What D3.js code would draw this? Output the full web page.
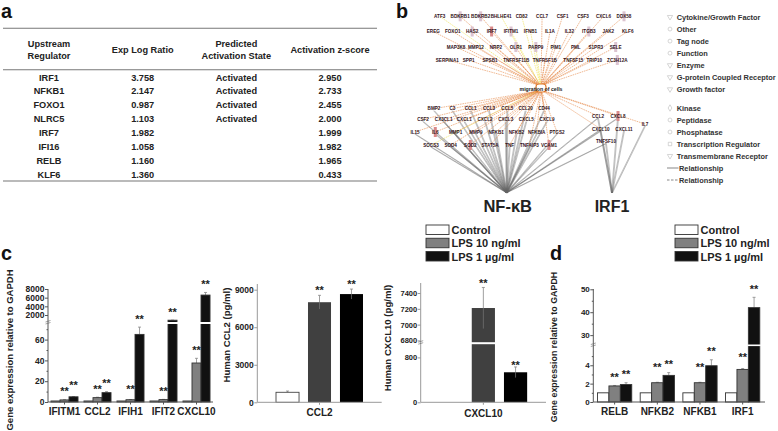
<!DOCTYPE html>
<html>
<head>
<meta charset="utf-8">
<script src="https://cdn.jsdelivr.net/npm/d3@7/dist/d3.min.js"></script>
<style>
html, body { margin: 0; padding: 0; background: #fff; }
svg { display: block; font-family: "Liberation Sans", Arial, sans-serif; }
text { font-weight: bold; fill: #222; }
</style>
</head>
<body>
<div id="chart"></div>
<script>
// panel a - table columns
var tableHeaders = [["Upstream", "Regulator"], ["Exp Log Ratio"], ["Predicted", "Activation State"], ["Activation z-score"]];
var regulators = ["IRF1", "NFKB1", "FOXO1", "NLRC5", "IRF7", "IFI16", "RELB", "KLF6"];
var expLogRatios = ["3.758", "2.147", "0.987", "1.103", "1.982", "1.058", "1.160", "1.360"];
var activationStates = ["Activated", "Activated", "Activated", "Activated", "", "", "", ""];
var zScores = ["2.950", "2.733", "2.455", "2.000", "1.999", "1.982", "1.965", "0.433"];

// panel b - network nodes, row by row
var upperRows = [
    ["ATF3", "BDKRB1", "BDKRB2", "BHLHE41", "CD82", "CCL7", "CSF1", "CSF3", "CXCL6", "DDX58"],
    ["EREG", "FOXO1", "HAS2", "IRF7", "IFITM1", "IFNB1", "IL1A", "IL32", "ITGB3", "JAK2", "KLF6"],
    ["MAP3K8", "MMP12", "NRP2", "OLR1", "PARP9", "PIM1", "PML", "S1PR3", "SELE"],
    ["SERPINA1", "SPP1", "SPSB1"],
    ["TNFRSF11B", "TNFRSF1B", "TNFSF15"],
    ["TRIP10", "ZC3H12A"]
];
var lowerRows = [
    ["BMP2", "C3", "CCL1", "CCL3", "CCL5", "CCL20", "CD44"],
    ["CSF2", "CX3CL1", "CXCL1", "CXCL2", "CXCL3", "CXCL5", "CXCL9"],
    ["IL15", "IL6", "MMP1", "MMP9", "NFKB1", "NFKB2", "NFKBIA", "PTGS2"],
    ["SOCS3", "SOD4", "SOD2", "STAT5A", "TNF", "TNFAIP3", "VCAM1"]
];
var sideRows = [["CCL2", "CXCL8"], ["CXCL10", "CXCL11"], ["TNFSF10"], ["IL7"]];
var irf1Targets = ["CCL2", "CXCL8", "CXCL10", "CXCL11", "TNFSF10", "IL7"];
var nfkbExtraTargets = ["CCL2", "CXCL8", "CXCL10", "TNFSF10"];
var yellowEdges = ["ATF3", "BHLHE41", "CD82", "IFITM1", "IFNB1", "PARP9", "SOCS3"];
var markedNodes = ["BDKRB1", "BDKRB2", "IRF7", "DDX58", "ITGB3", "SELE", "ZC3H12A", "IFITM1", "HAS2", "OLR1", "PARP9", "IL6", "SOD2", "VCAM1", "CXCL8"];
var darkMarkedNodes = ["IRF7", "IL6", "SOD2", "VCAM1", "CXCL8"];
var networkLegendTop = ["Cytokine/Growth Factor", "Other", "Tag node", "Function", "Enzyme", "G-protein Coupled Receptor", "Growth factor"];
var networkLegendBottom = ["Kinase", "Peptidase", "Phosphatase", "Transcription Regulator", "Transmembrane Receptor"];

// treatment groups
var treatments = ["Control", "LPS 10 ng/ml", "LPS 1 \u00b5g/ml"];

// panel c - gene expression
var genesC = ["IFITM1", "CCL2", "IFIH1", "IFIT2", "CXCL10"];
var controlC = [1, 1, 1, 1, 1];
var lps10C = [2, 4.2, 2.2, 2.3, 37.5];
var lps1C = [5, 9, 65, 800, 6600];
var errorTop10C = [2.2, 4.6, 2.4, 2.5, 42];
var errorTop1C = [5.2, 10, 72, 820, 7200];
var ticksC = [0, 20, 40, 60, 2000, 4000, 6000, 8000];
var minorTicksC = [10, 30, 50, 70];

// human CCL2 protein
var genesCcl2 = ["CCL2"];
var valuesCcl2 = [800, 8000, 8650];
var errorTopCcl2 = [900, 8550, 9050];
var ticksCcl2 = [0, 3000, 6000, 9000];

// human CXCL10 protein
var genesCxcl10 = ["CXCL10"];
var valuesCxcl10 = [0, 7210, 535];
var errorTopCxcl10 = [0, 7470, 630];
var ticksCxcl10 = [0, 800, 6800, 7000, 7200, 7400];

// panel d - gene expression
var genesD = ["RELB", "NFKB2", "NFKB1", "IRF1"];
var controlD = [1, 1, 1, 1];
var lps10D = [1.75, 2.1, 2.1, 3.55];
var lps1D = [1.9, 2.9, 3.95, 42];
var errorTop10D = [1.8, 2.15, 2.15, 3.65];
var errorTop1D = [2.1, 3.2, 4.6, 46.5];
var ticksD = [0, 2, 4, 30, 40, 50];
var minorTicksD = [1, 3, 5, 35, 45];

var svg = d3.select("#chart").append("svg")
    .attr("width", 778)
    .attr("height", 431);

// panel letters
[["a", 1, 18], ["b", 396, 18], ["c", 1, 260], ["d", 550, 260]].forEach(function(p) {
    svg.append("text").attr("x", p[1]).attr("y", p[2])
        .attr("font-size", 19.8).style("fill", "#111").text(p[0]);
});

drawTable();
drawNetwork();
drawNetworkLegend();

// Bar panels. Broken axes are just a piecewise scale with two close stops.
drawBars({
    x0: [48, 213], domain: [0, 75, 385, 8000], range: [402, 324, 322, 289],
    top: 289, axisEnd: 213, groups: genesC, sets: [controlC, lps10C, lps1C],
    errors: [controlC, errorTop10C, errorTop1C], ticks: ticksC, minor: minorTicksC,
    innerPad: 0, outerPad: 0.33, fills: ["#fff", "#808080", "#111"], strokes: "#333",
    axisColor: "#555", tickFont: 8.5, labelFont: 10, labelY: 415, starGap: 10,
    gapAt: [322, 2], starFrom: 1, nudges: {"IFITM1|2": 3, "IFIH1|1": 2},
    title: "Gene expression relative to GAPDH", titleX: 12.5, titleY: 350, titleFont: 9.5
});
drawBars({
    x0: [257.3, 381.7], domain: [0, 9000], range: [402.3, 289.7],
    top: 284, axisEnd: 381.7, groups: genesCcl2, sets: [[valuesCcl2[0]], [valuesCcl2[1]], [valuesCcl2[2]]],
    errors: [[errorTopCcl2[0]], [errorTopCcl2[1]], [errorTopCcl2[2]]], ticks: ticksCcl2, minor: [],
    innerPad: 0.28, outerPad: 0.585, fills: ["#fff", "#404040", "#000"], strokes: null,
    axisColor: "#999", tickFont: 8.5, labelFont: 10, labelY: 416, starGap: 7,
    starFrom: 1, nudges: {}, errorDown: true,
    title: "Human CCL2 (pg/ml)", titleX: 230, titleY: 335, titleFont: 9.6
});
drawBars({
    x0: [420.7, 546], domain: [0, 1030, 6780, 7400], range: [402.3, 344.5, 342, 293],
    top: 283, axisEnd: 546, groups: genesCxcl10, sets: [[valuesCxcl10[0]], [valuesCxcl10[1]], [valuesCxcl10[2]]],
    errors: [[errorTopCxcl10[0]], [errorTopCxcl10[1]], [errorTopCxcl10[2]]], ticks: ticksCxcl10, minor: [],
    innerPad: 0.28, outerPad: 0.585, fills: ["#fff", "#404040", "#000"], strokes: null,
    axisColor: "#999", tickFont: 7.5, labelFont: 10, labelY: 417, starGap: 6,
    gapAt: [342.2, 2], starFrom: 1, nudges: {"CXCL10|2": -3}, errorDown: true,
    title: "Human CXCL10 (pg/ml)", titleX: 391, titleY: 338, titleFont: 9.6
});
drawBars({
    x0: [593.3, 764], domain: [0, 6.1, 26, 50], range: [402, 346, 344.3, 289.3],
    top: 289, axisEnd: 765, groups: genesD, sets: [controlD, lps10D, lps1D],
    errors: [controlD, errorTop10D, errorTop1D], ticks: ticksD, minor: minorTicksD,
    innerPad: 0, outerPad: 0.37, fills: ["#fff", "#808080", "#111"], strokes: "#333",
    axisColor: "#555", tickFont: 8, labelFont: 10, labelY: 415, starGap: 10,
    gapAt: [344.5, 1.6], starFrom: 1, nudges: {"NFKB2|1": 7, "NFKB1|1": 7, "IRF1|1": 3},
    title: "Gene expression relative to GAPDH", titleX: 557, titleY: 347, titleFont: 8.9
});

drawLegend(426, 225);
drawLegend(675, 225);


function drawTable() {
    var g = svg.append("g");
    var columnX = d3.scalePoint().domain(d3.range(4)).range([49, 330]);
    var rowY = d3.scalePoint().domain(regulators).range([77.3, 174.4]);
    var columns = [regulators, expLogRatios, activationStates, zScores];

    // three horizontal rules
    g.selectAll("line").data([28.3, 69.7, 181]).enter().append("line")
        .attr("x1", 3).attr("x2", 377)
        .attr("y1", function(d) { return d; }).attr("y2", function(d) { return d; })
        .attr("stroke", "#777").attr("stroke-width", 1.1);

    tableHeaders.forEach(function(lines, i) {
        lines.forEach(function(line, j) {
            g.append("text")
                .attr("x", columnX(i))
                .attr("y", 52.9 + (j - (lines.length - 1) / 2) * 12)
                .attr("text-anchor", "middle").attr("font-size", 9.2)
                .text(line);
        });
    });

    columns.forEach(function(col, i) {
        g.selectAll(null).data(col).enter().append("text")
            .attr("x", columnX(i))
            .attr("y", function(d, r) { return rowY(regulators[r]) + 3.2; })
            .attr("text-anchor", "middle").attr("font-size", 9.2)
            .text(function(d) { return d; });
    });
}


function drawNetwork() {
    var g = svg.append("g");
    var hub = [541, 88];
    var nfkb = [506.7, 192.7];
    var irf1 = [612, 193];
    var pos = {};

    // layout rows are [y, left, right]
    function place(rows, layout) {
        rows.forEach(function(row, i) {
            var sx = d3.scalePoint().domain(row).range([layout[i][1], layout[i][2]]);
            row.forEach(function(n) { pos[n] = [sx(n), layout[i][0]]; });
        });
    }
    place(upperRows, [[16.3, 439.7, 624], [31.5, 433.3, 627.7], [47, 456, 615.7], [60, 447.3, 490], [60, 516.3, 573.3], [60, 594.3, 617.3]]);
    place(lowerRows, [[108.7, 434, 544], [119.5, 423, 547], [132, 415, 557], [145, 431, 549]]);
    place(sideRows, [[116, 598, 618], [129, 600.7, 624], [141.5, 606, 606], [124, 645, 645]]);

    var allNames = d3.merge([d3.merge(upperRows), d3.merge(lowerRows), d3.merge(sideRows)]);

    // gray regulator edges, drawn twice to look like the doubled lines
    var nfkbTargets = d3.merge(lowerRows).concat(nfkbExtraTargets);
    function grayEdge(name, end) {
        [-0.45, 0.45].forEach(function(off) {
            g.append("line")
                .attr("x1", pos[name][0] + off).attr("y1", pos[name][1] + 2)
                .attr("x2", end[0] + off).attr("y2", end[1])
                .attr("stroke", "#666").attr("stroke-width", 0.4);
        });
    }
    nfkbTargets.forEach(function(n) { grayEdge(n, nfkb); });
    irf1Targets.forEach(function(n) { grayEdge(n, irf1); });

    // dashed edges to the function node
    allNames.filter(function(n) { return n !== "TNFSF10" && n !== "CXCL11"; }).forEach(function(n) {
        var isYellow = yellowEdges.indexOf(n) >= 0;
        g.append("line")
            .attr("x1", pos[n][0]).attr("y1", pos[n][1])
            .attr("x2", hub[0] + (pos[n][0] - hub[0]) * 0.03)
            .attr("y2", hub[1] + (pos[n][1] < hub[1] ? -3 : 3))
            .attr("stroke", isYellow ? "#efe04e" : "#e58a4a")
            .attr("stroke-width", 0.6)
            .attr("stroke-dasharray", "1.6,0.8");
    });

    // function node
    g.append("rect")
        .attr("x", hub[0] - 5).attr("y", hub[1] - 4).attr("width", 10).attr("height", 8)
        .attr("rx", 3).attr("fill", "#fff").attr("stroke", "#e07b2c").attr("stroke-width", 1.2);

    // marks behind the node labels
    g.selectAll("rect.mark").data(markedNodes).enter().append("rect")
        .attr("class", "mark")
        .attr("x", function(d) { return pos[d][0] - 1.5; })
        .attr("y", function(d) { return pos[d][1] - 5; })
        .attr("width", 3).attr("height", 10)
        .attr("fill", function(d) { return darkMarkedNodes.indexOf(d) >= 0 ? "#d98a8a" : "#dcc4d0"; });

    g.selectAll("text.node").data(allNames).enter().append("text")
        .attr("class", "node")
        .attr("x", function(d) { return pos[d][0]; })
        .attr("y", function(d) { return pos[d][1] + 1.6; })
        .attr("text-anchor", "middle").attr("font-size", 4.6)
        .style("fill", "#301018")
        .text(function(d) { return d; });

    g.append("text").attr("x", hub[0]).attr("y", hub[1] + 2.5)
        .attr("text-anchor", "middle").attr("font-size", 5.2).style("fill", "#222")
        .text("migration of cells");

    g.append("text").attr("x", nfkb[0] + 1).attr("y", 212)
        .attr("text-anchor", "middle").attr("font-size", 16.5).style("fill", "#222").text("NF-\u03baB");
    g.append("text").attr("x", irf1[0]).attr("y", 212)
        .attr("text-anchor", "middle").attr("font-size", 16).style("fill", "#222").text("IRF1");
}


function drawNetworkLegend() {
    var g = svg.append("g");
    var textX = 676.7;
    var iconX = 670;
    var symbols = [d3.symbolTriangle, d3.symbolCircle, d3.symbolCircle, d3.symbolCircle, d3.symbolTriangle, d3.symbolTriangle, d3.symbolTriangle,
                   d3.symbolDiamond, d3.symbolCircle, d3.symbolCircle, d3.symbolSquare, d3.symbolTriangle];
    var topY = d3.scalePoint().domain(networkLegendTop).range([17, 89.3]);
    var bottomY = d3.scalePoint().domain(networkLegendBottom).range([108, 156]);
    var rows = networkLegendTop.map(function(d) { return [d, topY(d)]; })
        .concat(networkLegendBottom.map(function(d) { return [d, bottomY(d)]; }));

    rows.forEach(function(r, i) {
        g.append("path")
            .attr("d", d3.symbol().type(symbols[i]).size(12)())
            .attr("transform", "translate(" + iconX + "," + r[1] + ")" + (symbols[i] === d3.symbolTriangle ? " rotate(180)" : ""))
            .attr("fill", "#fff").attr("stroke", "#c4c4c4").attr("stroke-width", 0.7);
        g.append("text").attr("x", textX).attr("y", r[1] + 2.7)
            .attr("font-size", 7.4).style("fill", "#333").text(r[0]);
    });

    // the two line styles
    [[168, null], [180, "2.5,1.5"]].forEach(function(r) {
        g.append("line").attr("x1", 667).attr("x2", 678.5)
            .attr("y1", r[0]).attr("y2", r[0])
            .attr("stroke", "#555").attr("stroke-width", 0.7)
            .attr("stroke-dasharray", r[1]);
        g.append("text").attr("x", 679).attr("y", r[0] + 2.7)
            .attr("font-size", 7.4).style("fill", "#333").text("Relationship");
    });
}


function drawLegend(left, top) {
    var g = svg.append("g");
    var fills = ["#fff", "#808080", "#111"];
    var ly = d3.scalePoint().domain(treatments).range([top, top + 26.5]);
    g.selectAll("rect").data(treatments).enter().append("rect")
        .attr("x", left).attr("y", function(d) { return ly(d); })
        .attr("width", 23).attr("height", 9.5)
        .attr("fill", function(d, i) { return fills[i]; })
        .attr("stroke", "#333").attr("stroke-width", 0.9);
    g.selectAll("text").data(treatments).enter().append("text")
        .attr("x", left + 25.5).attr("y", function(d) { return ly(d) + 9.2; })
        .attr("font-size", 11).style("fill", "#222")
        .text(function(d) { return d; });
}


// One bar chart with its axes, stars, error bars and axis title
function drawBars(cfg) {
    var g = svg.append("g");
    var y = d3.scaleLinear().domain(cfg.domain).range(cfg.range);
    var xGroup = d3.scaleBand().domain(cfg.groups).range(cfg.x0);
    var xBar = d3.scaleBand().domain(d3.range(3)).range([0, xGroup.bandwidth()])
        .paddingInner(cfg.innerPad).paddingOuter(cfg.outerPad);

    cfg.groups.forEach(function(group, gi) {
        var left = xGroup(group);
        cfg.sets.forEach(function(values, si) {
            var v = values[gi];
            var bx = left + xBar(si);
            var bw = xBar.bandwidth();
            var cx = bx + bw / 2;
            var errTop = cfg.errors[si][gi];

            // error bar behind the bar
            if (errTop > v) {
                g.append("line").attr("x1", cx).attr("x2", cx)
                    .attr("y1", y(errTop)).attr("y2", y(v))
                    .attr("stroke", "#888").attr("stroke-width", 0.8);
                g.append("line").attr("x1", cx - 1.5).attr("x2", cx + 1.5)
                    .attr("y1", y(errTop)).attr("y2", y(errTop))
                    .attr("stroke", "#888").attr("stroke-width", 0.8);
            }
            if (v > 0) {
                g.append("rect").attr("x", bx).attr("y", y(v))
                    .attr("width", bw).attr("height", y(0) - y(v))
                    .attr("fill", cfg.fills[si])
                    .attr("stroke", cfg.strokes || (si === 0 ? "#444" : "none"))
                    .attr("stroke-width", 0.9);
            }
            // mirrored part of the error bar, visible on the dark protein bars
            if (cfg.errorDown && si > 0 && errTop > v) {
                var low = y(v) + (y(v) - y(errTop));
                g.append("line").attr("x1", cx).attr("x2", cx)
                    .attr("y1", y(v)).attr("y2", low)
                    .attr("stroke", "#777").attr("stroke-width", 0.7);
            }
            // white cut through bars that cross the axis break
            if (cfg.gapAt && y(v) < cfg.gapAt[0]) {
                g.append("rect").attr("x", bx - 1).attr("y", cfg.gapAt[0])
                    .attr("width", bw + 2).attr("height", cfg.gapAt[1])
                    .attr("fill", "#fff");
            }
            // significance stars
            if (si >= cfg.starFrom && v > 0) {
                var nudge = cfg.nudges[group + "|" + si] || 0;
                g.append("text")
                    .attr("x", cx)
                    .attr("y", Math.min(y(errTop), y(v)) - cfg.starGap - nudge + 5.5)
                    .attr("text-anchor", "middle").attr("font-size", 11).style("fill", "#222")
                    .text("**");
            }
        });
    });

    // y axis
    var yAxis = d3.axisLeft(y).tickValues(cfg.ticks).tickSize(3).tickFormat(d3.format("d"));
    var yG = g.append("g").attr("transform", "translate(" + cfg.x0[0] + ",0)").call(yAxis);
    yG.select(".domain").attr("stroke", cfg.axisColor).attr("stroke-width", 1)
        .attr("d", "M0," + y(0) + "V" + cfg.top);
    yG.selectAll(".tick line").attr("stroke", cfg.axisColor);
    yG.selectAll(".tick text").attr("x", -3.5).attr("font-size", cfg.tickFont)
        .attr("font-family", "Liberation Sans").style("fill", "#222");

    if (cfg.minor.length) {
        var minorAxis = d3.axisLeft(y).tickValues(cfg.minor).tickSize(1.5).tickFormat("");
        var mG = g.append("g").attr("transform", "translate(" + cfg.x0[0] + ",0)").call(minorAxis);
        mG.select(".domain").remove();
        mG.selectAll(".tick line").attr("stroke", cfg.axisColor);
    }

    // break mark on the y axis
    if (cfg.gapAt) {
        [0, 2].forEach(function(off) {
            g.append("line")
                .attr("x1", cfg.x0[0] - 2.5).attr("x2", cfg.x0[0] + 2.5)
                .attr("y1", cfg.gapAt[0] + off).attr("y2", cfg.gapAt[0] + off - 1.5)
                .attr("stroke", "#666").attr("stroke-width", 0.6);
        });
    }

    // x axis
    var xAxis = d3.axisBottom(xGroup).tickSize(2.5).tickFormat("");
    var xG = g.append("g").attr("transform", "translate(0," + y(0) + ")").call(xAxis);
    xG.select(".domain").attr("stroke", cfg.axisColor).attr("stroke-width", 1)
        .attr("d", "M" + cfg.x0[0] + ",0H" + cfg.axisEnd);
    xG.selectAll(".tick line").attr("stroke", cfg.axisColor);

    // category labels
    g.selectAll("text.cat").data(cfg.groups).enter().append("text")
        .attr("class", "cat")
        .attr("x", function(d) { return xGroup(d) + xGroup.bandwidth() / 2; })
        .attr("y", cfg.labelY)
        .attr("text-anchor", "middle").attr("font-size", cfg.labelFont)
        .text(function(d) { return d; });

    // y title
    g.append("text")
        .attr("transform", "translate(" + cfg.titleX + "," + cfg.titleY + ") rotate(-90)")
        .attr("text-anchor", "middle").attr("font-size", cfg.titleFont)
        .text(cfg.title);
}
</script>
</body>
</html>
